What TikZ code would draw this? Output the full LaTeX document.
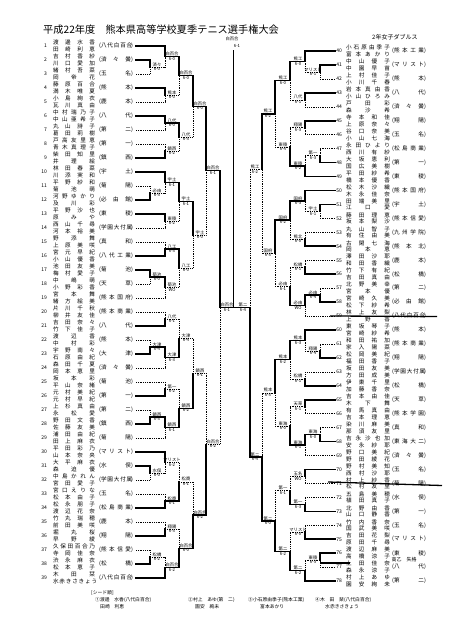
\documentclass[tikz,border=0pt]{standalone}
\usepackage{fontspec}
\setmainfont{Noto Sans CJK JP}
\usetikzlibrary{calc}
\newcommand\mf{0.5}
\tikzset{
 wline/.style={line width=1.1pt,line cap=rect},
 lline/.style={line width=0.5pt,dash pattern=on 0.9pt off 0.9pt},
 lab/.style={font=\fontsize{4.3}{4.5}\selectfont,inner sep=0.3pt},
 nm/.style={font=\fontsize{5.6}{6}\selectfont,inner sep=0pt},
 num/.style={font=\fontsize{5}{5}\selectfont,inner sep=0pt},
 seed/.style={font=\fontsize{4.8}{5}\selectfont,inner sep=0pt,anchor=west},
}
\newcommand\halfA[4]{\draw[#1] let \p1=(#2),\p2=(#3),\n1={\y1+\mf*((\y2)-(\y1))} in (\x1,\y1) -- (#4pt,\y1) -- (#4pt,\n1);}
\newcommand\halfB[4]{\draw[#1] let \p1=(#2),\p2=(#3),\n1={\y1+\mf*((\y2)-(\y1))} in (\x2,\y2) -- (#4pt,\y2) -- (#4pt,\n1);}
\newcommand\mt[8]{%
 \ifnum#5=1 \halfB{lline}{#2}{#3}{#4}\halfA{wline}{#2}{#3}{#4}%
 \else \halfA{lline}{#2}{#3}{#4}\halfB{wline}{#2}{#3}{#4}\fi
 \path let \p1=(#2),\p2=(#3),\n1={\y1+\mf*((\y2)-(\y1))} in
  coordinate (#1) at (#4pt,\n1)
  node[lab,anchor=south] at ({(#4+(#8)*7)*1pt},\n1) {#6}
  node[lab,anchor=north] at ({(#4+(#8)*7)*1pt},\n1) {#7};
}
\newcommand\eL[4]{%
 \pgfmathsetmacro\ey{46+(#1-1)*14}%
 \node[num,anchor=east] at (47,\ey) {#1};
 \node[nm] at (74,\ey-3.4) {\makebox[42pt][s]{#2}};
 \node[nm] at (74,\ey+3.4) {\makebox[42pt][s]{#3}};
 \node[nm] at (116,\ey) {(\makebox[30pt][s]{#4})};
 \coordinate (L#1) at (136,\ey);
}
\newcommand\eR[4]{%
 \pgfmathsetmacro\ey{51+(#1-40)*13.95}%
 \node[num,anchor=east] at (342,\ey) {#1};
 \node[nm] at (368,\ey-3.4) {\makebox[44pt][s]{#2}};
 \node[nm] at (368,\ey+3.4) {\makebox[44pt][s]{#3}};
 \node[nm] at (409,\ey) {(\makebox[30pt][s]{#4})};
 \coordinate (R#1) at (335,\ey);
}
\begin{document}
\begin{tikzpicture}[x=1pt,y=-1pt]
\useasboundingbox[fill=white] (0,0) rectangle (450,637);
% titles
\node[anchor=west,font=\fontsize{10.2}{11}\selectfont,inner sep=0pt] (title) at (43,30) {平成22年度　熊本県高等学校夏季テニス選手権大会};
\node[anchor=west,font=\fontsize{6}{6}\selectfont,inner sep=0pt] (event) at (372,37) {2年女子ダブルス};
% left entries
\eL{1}{渡 邊 水 香}{田 崎 利 恵}{八 代 白 百 合}
\eL{2}{吉 村 香 紗}{川 口 愛 加}{済 々 黌}
\eL{3}{緒 村 吾 菜}{岡 帝 花}{玉 名}
\eL{4}{藤 原 百 合}{満 木 唯 夏}{熊 本}
\eL{5}{小 島 絢 衣}{瓦 川 真 由}{鹿 本}
\eL{6}{中 村 瑞 乃 子}{中 山 亜 希 子}{八 代}
\eL{7}{丸 山 詩 子}{葛 田 莉 樹}{第 二}
\eL{8}{戸 高 友 里 恵}{青 木 真 理 子}{第 一}
\eL{9}{柴 田 知 里}{井 理 絵}{鎮 西}
\eL{10}{林 田 春 菜}{川 添 実 和}{宇 土}
\eL{11}{平 野 紗 和}{菊 池 萌}{菊 陽}
\eL{12}{河 野 ゆ か り}{及 川 彩}{必 由 館}
\eL{13}{平 野 沙 也}{原 み や}{東 稜}
\eL{14}{西 山 千 尋}{河 本 裕 美}{学 園 大 付 属}
\eL{15}{野 添 舞}{上 原 美 咲}{真 和}
\eL{16}{宮 元 早 紀}{小 山 優 香}{八 代 工 業}
\eL{17}{池 田 友 美}{梅 村 愛 子}{菊 池}
\eL{18}{中 嶋 萌}{小 野 彩 香}{天 草}
\eL{19}{宮 本 舞}{緒 方 絵 美}{熊 本 国 府}
\eL{20}{片 川 千 秋}{柳 井 友 佳}{熊 本 商 業}
\eL{21}{吉 田 奈 々}{竹 下 佳 子}{八 代}
\eL{22}{渡 辺 香}{中 村 彩}{熊 本}
\eL{23}{宇 野 南 々}{石 原 由 紀}{大 津}
\eL{24}{森 田 千 夏}{岡 本 恵 里}{済 々 黌}
\eL{25}{坂 本 彩}{平 山 奈 緒}{菊 池}
\eL{26}{元 村 美 紀}{元 村 早 紀}{第 一}
\eL{27}{上 杉 真 由}{永 松 愛}{第 二}
\eL{28}{野 田 文 香}{佐 藤 友 美}{鎮 西}
\eL{29}{浦 田 由 紀}{田 上 麻 衣}{菊 陽}
\eL{30}{平 田 彩 乃}{山 本 奈 央}{マ リ ス ト}
\eL{31}{大 平 麻 衣}{森 迫 優}{水 俣}
\eL{32}{中 島 か れ ん}{宮 田 愛 子}{学 園 大 付 属}
\eL{33}{宮 口 え り な}{松 本 由 子}{玉 名}
\eL{34}{松 永 朋 子}{渡 辺 花 奈}{松 島 商 業}
\eL{35}{竹 丸 瑞 穂}{前 田 美 咲}{鹿 本}
\eL{36}{堀 丸 桜}{早 野 綾}{翔 陽}
\eL{37}{久 保 田 百 合 乃}{寺 岡 佳 奈}{熊 本 信 愛}
\eL{38}{渋 永 麻 衣}{松 本 恵 子}{松 橋}
\eL{39}{木 田 栞}{水 赤 き さ き ょ う}{八 代 白 百 合}
% right entries
\eR{40}{小 石 原 由 季 子}{富 本 あ か り}{熊 本 工 業}
\eR{41}{中 山 優 子}{中 園 早 苗}{マ リ ス ト}
\eR{42}{上 村 佳 子}{小 川 千 春}{熊 本}
\eR{43}{岩 本 真 由 香}{小 山 ひ ろ み}{八 代}
\eR{44}{戸 田 彩}{森 沙 希}{済 々 黌}
\eR{45}{寺 本 和 佳}{上 原 奈 々}{翔 陽}
\eR{46}{谷 口 奈 美}{小 山 七 海}{玉 名}
\eR{47}{永 田 ひ よ り}{西 川 有 紗}{松 島 商 業}
\eR{48}{大 坂 恵 利}{国 広 美 樹}{第 一}
\eR{49}{平 田 紗 希}{橋 本 優 香}{東 稜}
\eR{50}{松 木 沙 織}{木 永 佳 奈}{熊 本 国 府}
\eR{51}{田 端 美 里}{江 口 愛}{宇 土}
\eR{52}{藤 田 理 恵}{坂 本 梨 沙}{熊 本 信 愛}
\eR{53}{丸 山 智 子}{有 住 由 美}{九 州 学 院}
\eR{54}{古 閑 七 海}{岡 本 恵}{熊 本 北}
\eR{55}{澤 田 沙 耶}{和 田 香 織}{鹿 本}
\eR{56}{竹 下 有 紀}{吉 田 真 由}{松 橋}
\eR{57}{北 野 美 幸}{宮 本 優}{第 二}
\eR{58}{宮 崎 久 美}{松 下 紗 希}{必 由 館}
\eR{59}{林 上 友 梨}{上 野 香}{八 代 白 百 合}
\eR{60}{東 坂 琴 子}{宮 崎 紗 希}{熊 本}
\eR{61}{和 田 祐 加}{家 入 陽 菜}{熊 本 商 業}
\eR{62}{松 岡 美 紀}{福 田 香 子}{翔 陽}
\eR{63}{坂 田 友 美}{方 田 成 美}{学 園 大 付 属}
\eR{64}{伊 東 千 里}{加 藤 香 奈}{松 橋}
\eR{65}{吉 本 由 佳}{木 下 舞}{天 草}
\eR{66}{有 馬 真 由}{吉 本 理 恵}{熊 本 学 園}
\eR{67}{染 川 麻 美}{那 須 友 里}{真 和}
\eR{68}{吉 永 沙 也 加}{安 永 紗 耶}{東 海 大 二}
\eR{69}{野 口 美 紀}{野 田 綾 花}{済 々 黌}
\eR{70}{野 村 美 知}{西 村 沙 耶}{玉 名}
\eR{71}{村 上 紗 香}{松 村 友 里}{菊 陽}
\eR{72}{五 島 美 穂}{植 田 真 子}{水 俣}
\eR{73}{北 野 由 香}{山 口 静 香}{第 一}
\eR{74}{竹 内 香 奈}{国 武 美 咲}{玉 名}
\eR{75}{吉 田 花 梨}{原 田 千 尋}{マ リ ス ト}
\eR{76}{渡 辺 麻 美}{高 橋 涼 子}{東 稜}
\eR{77}{上 田 佳 奈}{森 永 涼 子}{八 代}
\eR{78}{村 上 あ ゆ}{園 安 絢 未}{第 二}
% ---------- left bracket ----------
\mt{a23}{L2}{L3}{150}{1}{済々}{6-0}{1}
\mt{a1}{L1}{a23}{165}{1}{白百合}{6-0}{1}
\mt{a45}{L4}{L5}{165}{1}{熊本}{6-0}{1}
\mt{b1}{a1}{a45}{179}{1}{白百合}{6-0}{1}
\mt{a67}{L6}{L7}{165}{1}{八代}{6-0}{1}
\mt{a89}{L8}{L9}{165}{2}{鎮西}{6-2}{1}
\mt{b6}{a67}{a89}{179}{1}{八代}{6-3}{1}
\mt{c1}{b1}{b6}{193}{1}{白百合}{6-0}{1}
\mt{a1112}{L11}{L12}{150}{2}{必由}{6-3}{1}
\mt{a10}{L10}{a1112}{165}{1}{宇土}{6-1}{1}
\mt{a1314}{L13}{L14}{165}{1}{東稜}{6-2}{1}
\mt{b10}{a10}{a1314}{179}{1}{宇土}{6-1}{1}
\mt{a1516}{L15}{L16}{165}{2}{八工}{6-3}{1}
\mt{a1718}{L17}{L18}{150}{1}{菊池}{6-0}{1}
\mt{a19}{a1718}{L19}{165}{1}{菊池}{WO}{1}
\mt{b16}{a1516}{a19}{179}{1}{八工}{6-0}{1}
\mt{c10}{b10}{b16}{193}{1}{宇土}{6-0}{1}
\mt{d1}{c1}{c10}{206}{1}{白百合}{6-1}{1}
\mt{a2021}{L20}{L21}{165}{2}{八代}{6-1}{1}
\mt{a2223}{L22}{L23}{150}{2}{大津}{6-4}{1}
\mt{a24}{a2223}{L24}{165}{1}{大津}{6-3}{1}
\mt{b21}{a2021}{a24}{179}{2}{大津}{6-4}{1}
\mt{a2526}{L25}{L26}{165}{2}{第一}{6-2}{1}
\mt{a2728}{L27}{L28}{150}{2}{鎮西}{6-3}{1}
\mt{a29}{a2728}{L29}{165}{1}{鎮西}{6-1}{1}
\mt{b26}{a2526}{a29}{179}{2}{鎮西}{6-2}{1}
\mt{c21}{b21}{b26}{193}{2}{鎮西}{6-1}{1}
\mt{a3132}{L31}{L32}{150}{1}{水俣}{6-0}{1}
\mt{a30}{L30}{a3132}{165}{1}{マリスト}{6-2}{1}
\mt{a3334}{L33}{L34}{165}{2}{松商}{6-1}{1}
\mt{b30}{a30}{a3334}{179}{2}{松商}{6-1}{1}
\mt{a3536}{L35}{L36}{165}{2}{翔陽}{6-3}{1}
\mt{a3738}{L37}{L38}{150}{2}{松橋}{6-2}{1}
\mt{a39}{a3738}{L39}{165}{2}{白百合}{6-2}{1}
\mt{b39}{a3536}{a39}{179}{2}{白百合}{6-0}{1}
\mt{c39}{b30}{b39}{193}{2}{白百合}{6-2}{1}
\mt{d39}{c21}{c39}{206}{2}{白百合}{6-2}{1}
\mt{eL}{d1}{d39}{220}{1}{白百合}{6-1}{1}
% ---------- right bracket ----------
\tikzset{wline/.style={line width=1.7pt,line cap=rect}}
\mt{r4142}{R41}{R42}{320}{1}{マリスト}{6-1}{-1}
\mt{r40}{R40}{r4142}{305}{1}{熊工}{6-0}{-1}
\mt{r4344}{R43}{R44}{305}{1}{八代}{6-1}{-1}
\mt{s40}{r40}{r4344}{290}{1}{熊工}{6-0}{-1}
\mt{r4546}{R45}{R46}{305}{1}{翔陽}{6-3}{-1}
\mt{r4748}{R47}{R48}{320}{2}{第一}{6-3}{-1}
\mt{r49}{r4748}{R49}{305}{2}{東稜}{6-2}{-1}
\mt{s49}{r4546}{r49}{290}{2}{東稜}{6-4}{-1}
\mt{t40}{s40}{s49}{275}{1}{熊工}{6-2}{-1}
\mt{r5152}{R51}{R52}{320}{1}{宇土}{6-1}{-1}
\mt{r50}{R50}{r5152}{305}{1}{国府}{6-3}{-1}
\mt{r5354}{R53}{R54}{305}{2}{熊北}{6-0}{-1}
\mt{s50}{r50}{r5354}{290}{1}{国府}{6-2}{-1}
\mt{r5556}{R55}{R56}{305}{2}{松橋}{6-1}{-1}
\mt{r5758}{R57}{R58}{320}{2}{必由}{6-4}{-1}
\mt{r59}{r5758}{R59}{305}{1}{必由}{WO}{-1}
\mt{s58}{r5556}{r59}{290}{2}{必由}{6-1}{-1}
\mt{t50}{s50}{s58}{275}{1}{国府}{6-3}{-1}
\renewcommand\mf{0.4}
\mt{u40}{t40}{t50}{262}{1}{熊工}{6-2}{-1}
\renewcommand\mf{0.5}
\mt{r6162}{R61}{R62}{320}{2}{翔陽}{6-4}{-1}
\mt{r60}{R60}{r6162}{305}{1}{熊本}{6-3}{-1}
\mt{r6364}{R63}{R64}{305}{2}{松橋}{6-1}{-1}
\mt{s60}{r60}{r6364}{290}{1}{熊本}{6-2}{-1}
\mt{r6566}{R65}{R66}{305}{1}{天草}{6-1}{-1}
\mt{r6768}{R67}{R68}{320}{2}{東海}{6-0}{-1}
\mt{r69}{r6768}{R69}{305}{1}{東海}{6-1}{-1}
\mt{s68}{r6566}{r69}{290}{2}{東海}{6-0}{-1}
\mt{t60}{s60}{s68}{275}{1}{熊本}{6-3}{-1}
\mt{r7071}{R70}{R71}{305}{1}{玉名}{WO}{-1}
\mt{r7273}{R72}{R73}{305}{2}{第一}{6-3}{-1}
\mt{s73}{r7071}{r7273}{290}{2}{第一}{6-1}{-1}
\mt{r7475}{R74}{R75}{305}{2}{マリスト}{6-0}{-1}
\mt{r7677}{R76}{R77}{320}{1}{東稜}{6-3}{-1}
\mt{r78}{r7677}{R78}{305}{2}{第二}{6-2}{-1}
\mt{s78}{r7475}{r78}{290}{2}{第二}{6-2}{-1}
\mt{t78}{s73}{s78}{275}{2}{第二}{6-0}{-1}
\mt{u78}{t60}{t78}{262}{2}{第二}{6-4}{-1}
\renewcommand\mf{0.48}
\mt{eR}{u40}{u78}{250}{2}{第二}{6-4}{-1}
\renewcommand\mf{0.5}
% ---------- final ----------
\coordinate (fin) at (233,50);
\draw[line width=0.8pt] (eL) -- (eL -| fin);
\draw[line width=0.8pt] (eR) -- (eR -| fin);
\draw[line width=0.6pt] (fin) -- (fin |- eL);
\node[lab] (champ) at (232,39) {白百合};
\node[lab] (champs) at (237,46) {6-1};
% strike marks and notes
\draw[line width=1.3pt] (330,316) -- (437,316.5);
\draw[line width=1.3pt] (328,482) -- (442,485.5);
\draw[line width=1.6pt] (320,563) -- (350,563);
\node[font=\fontsize{5}{5}\selectfont,inner sep=0pt] (note) at (404,560) {高乙　失格};
% seeds
\node[seed] (sd) at (91,593) {[シード順]};
\node[seed] (s1) at (95,599.5) {①渡邊　水香(八代白百合)};
\node[seed] (s2) at (188,599.5) {②村上　あゆ(第　二)};
\node[seed] (s3) at (248,599.5) {③小石原由季子(熊本工業)};
\node[seed] (s4) at (315,599.5) {④木　田　栞(八代白百合)};
\node[seed] (t1) at (100,606.5) {田崎　利恵};
\node[seed] (t2) at (195,606.5) {園安　絢未};
\node[seed] (t3) at (260,606.5) {富本あかり};
\node[seed] (t4) at (325,606.5) {水赤きさきょう};
\end{tikzpicture}
\end{document}
